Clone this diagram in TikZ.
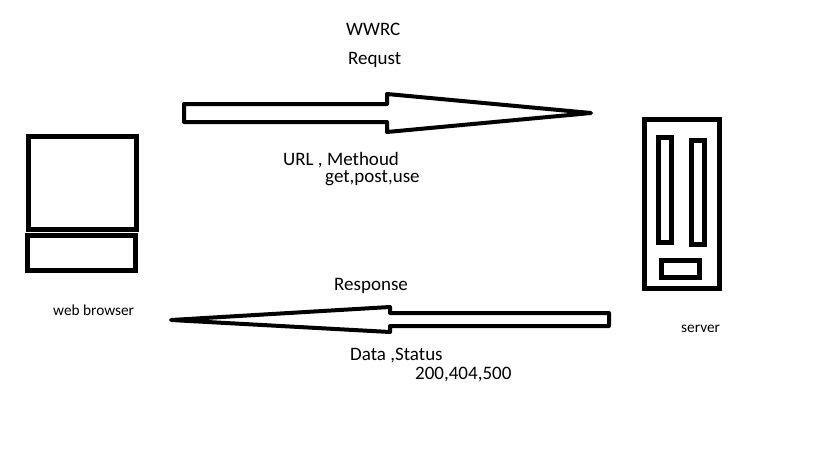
\documentclass[tikz,border=0pt]{standalone}
\usepackage{fontspec}
\setmainfont{Carlito}
\tikzset{
    box/.style={draw, line width=5pt, inner sep=0pt, outer sep=0pt},
    blockarrow/.style={draw, line width=4pt, line join=round},
    label/.style={anchor=west, inner sep=0pt, font=\fontsize{19pt}{20pt}\selectfont},
    smalllabel/.style={anchor=west, inner sep=0pt, font=\fontsize{15.3pt}{16pt}\selectfont}
}
\begin{document}
\begin{tikzpicture}[x=1pt,y=-1pt]
    \useasboundingbox (0,0) rectangle (819,460);
    % browser
    \node[box, minimum width=108pt, minimum height=93pt] (monitor) at (82.5,183) {};
    \node[box, minimum width=108pt, minimum height=35pt] (keyboard) at (81.5,253) {};
    % server
    \node[box, minimum width=75pt, minimum height=169pt] (server) at (682,204) {};
    \node[box, minimum width=13pt, minimum height=105pt] (slotleft) at (665,190) {};
    \node[box, minimum width=13pt, minimum height=104pt] (slotright) at (698,192.5) {};
    \node[box, minimum width=38pt, minimum height=17pt] (drive) at (680.5,269) {};
    % arrows
    \draw[blockarrow] (184,104) -- (387,104) -- (387,94) -- (591,113) -- (387,132) -- (387,122) -- (184,122) -- cycle;
    \draw[blockarrow] (609,313) -- (390,313) -- (390,307) -- (171,320) -- (390,332) -- (390,326) -- (609,326) -- cycle;
    % labels
    \node[label] (title) at (346,29.5) {WWRC};
    \node[label] (request) at (348,59.5) {Requst};
    \node[label] (url) at (283,160.5) {URL , Methoud};
    \node[label] (methods) at (325,178.5) {get,post,use};
    \node[label] (response) at (334,285.5) {Response};
    \node[label] (data) at (350,355.5) {Data ,Status};
    \node[label] (codes) at (415,374.5) {200,404,500};
    \node[smalllabel] (browser) at (53,310.5) {web browser};
    \node[smalllabel] (serverlabel) at (681,329) {server};
\end{tikzpicture}
\end{document}
